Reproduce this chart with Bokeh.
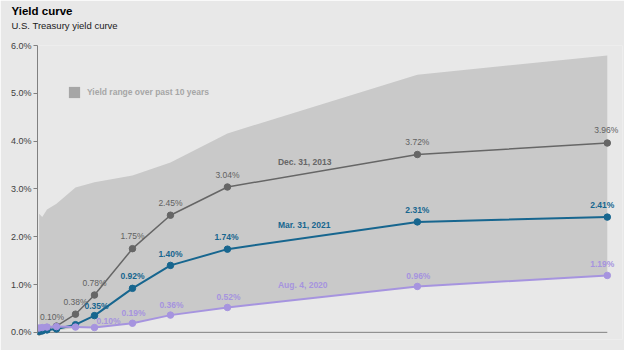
from bokeh.plotting import figure
from bokeh.models import (ColumnDataSource, LabelSet, Label, Legend, LegendItem, Title,
                          PrintfTickFormatter, FixedTicker, Range1d)
from bokeh.core.properties import value
from bokeh.embed import file_html
from bokeh.resources import INLINE

# ---------------- data ----------------
maturity_labels = ["1m", "3m", "6m", "1y", "2y", "3y", "5y", "7y", "10y", "20y", "30y"]
maturity_years = [0.083, 0.25, 0.5, 1, 2, 3, 5, 7, 10, 20, 30]

dec_2013 = [0.01, 0.07, 0.10, 0.13, 0.38, 0.78, 1.75, 2.45, 3.04, 3.72, 3.96]
mar_2021 = [0.02, 0.03, 0.05, 0.07, 0.16, 0.35, 0.92, 1.40, 1.74, 2.31, 2.41]
aug_2020 = [0.09, 0.10, 0.11, 0.12, 0.11, 0.10, 0.19, 0.36, 0.52, 0.96, 1.19]

range_high = [2.48, 2.41, 2.57, 2.69, 3.03, 3.14, 3.28, 3.55, 4.16, 5.39, 5.79]
range_low = [0.00, 0.00, 0.02, 0.04, 0.09, 0.10, 0.19, 0.36, 0.52, 0.96, 1.19]

y_ticks = [0, 1, 2, 3, 4, 5, 6]

series_names = ["Dec. 31, 2013", "Mar. 31, 2021", "Aug. 4, 2020"]
legend_text = "Yield range over past 10 years"
title_text = "Yield curve"
subtitle_text = "U.S. Treasury yield curve"

# which points carry a value label
dec_labelled = [2, 4, 5, 6, 7, 8, 9, 10]
mar_labelled = [5, 6, 7, 8, 9, 10]
aug_labelled = [5, 6, 7, 8, 9, 10]

# ---------------- style ----------------
FONT = "Liberation Sans"
BG = "#e8e8e8"
AREA = "#c9c9c9"
SWATCH = "#a6a6a6"
GRAY = "#666666"
GRAY_TXT = "#616161"
BLUE = "#17668f"
PURPLE = "#a694df"
AXIS = "#808080"

p = figure(width=624, height=350, output_backend="svg", toolbar_location=None, title=None,
           x_range=Range1d(0, 30.8), y_range=Range1d(-0.15, 6.0),
           min_border_left=37, min_border_right=2, min_border_top=45, min_border_bottom=11,
           background_fill_color=BG, border_fill_color=BG, outline_line_color=None)
p.xgrid.visible = False
p.ygrid.visible = False
p.xaxis.visible = False

ya = p.yaxis[0]
ya.bounds = (0, 6)
ya.ticker = FixedTicker(ticks=y_ticks)
ya.formatter = PrintfTickFormatter(format="%.1f%%")
ya.axis_line_color = AXIS
ya.major_tick_line_color = AXIS
ya.major_tick_out = 4
ya.major_tick_in = 0
ya.minor_tick_line_color = None
ya.major_label_standoff = 2
ya.major_label_text_font = FONT
ya.major_label_text_font_size = "9px"
ya.major_label_text_color = "#404040"

# titles (first added sits closest to the plot)
p.add_layout(Title(text=subtitle_text, text_font=FONT, text_font_size="9.5px",
                   text_font_style="normal", text_color="#1a1a1a",
                   align="left", offset=-26, standoff=29), "above")
p.add_layout(Title(text=title_text, text_font=FONT, text_font_size="11.5px",
                   text_font_style="bold", text_color="#000000",
                   align="left", offset=-26, standoff=-27), "above")

# range area
p.varea(x=maturity_years, y1=range_low, y2=range_high, fill_color=AREA)

# bottom axis line from 0 to longest maturity
p.segment(x0=[0], y0=[0], x1=[max(maturity_years)], y1=[0], line_color=AXIS, line_width=1)

# curves
for vals, col, lw in [(dec_2013, GRAY, 1.5), (mar_2021, BLUE, 2), (aug_2020, PURPLE, 2)]:
    p.line(maturity_years, vals, line_color=col, line_width=lw)
    p.scatter(maturity_years, vals, size=6.5, fill_color=col, line_color=col)

def value_labels(vals, idx, col, bold, dx, dy):
    xs = [maturity_years[i] for i in idx]
    ys = [vals[i] for i in idx]
    txt = ["%.2f%%" % vals[i] for i in idx]
    src = ColumnDataSource(dict(x=xs, y=ys, text=txt, dx=dx, dy=dy))
    ls = LabelSet(x="x", y="y", text="text", source=src, x_offset="dx", y_offset="dy",
                  text_align="center", text_baseline="middle", text_font=value(FONT),
                  text_font_size=value("8.5px"), text_color=value(col),
                  text_font_style=value("bold" if bold else "normal"))
    p.add_layout(ls)

value_labels(dec_2013, dec_labelled, GRAY_TXT, False,
             [5, 0, 0, 0, 0, 0, 0, -1], [11, 12.5, 12.5, 12.5, 12.5, 12.5, 12, 13])
value_labels(mar_2021, mar_labelled, BLUE, True,
             [2, 0, 0, -1, 0, -5], [10, 12.5, 11, 12, 12, 12])
value_labels(aug_2020, aug_labelled, PURPLE, True,
             [14, 1, 1, 1, 1, -5], [7, 10, 10, 10, 10, 11])

# series name labels (annotation anchors, data units)
name_x = 12.66
for name, ny, col in zip(series_names, [3.57, 2.25, 1.00], [GRAY, BLUE, PURPLE]):
    p.add_layout(Label(x=name_x, y=ny, text=name, text_align="left", text_baseline="middle",
                       text_font=FONT, text_font_size="8.5px", text_font_style="bold",
                       text_color=col))

# legend swatch (zero-area renderer used only for its legend glyph)
dummy = p.varea(x=[0], y1=[0], y2=[0], fill_color=SWATCH)
leg = Legend(items=[LegendItem(label=legend_text, renderers=[dummy])],
             location=(30, 240), padding=0, margin=0, spacing=0,
             glyph_width=14, glyph_height=14, label_standoff=6,
             label_text_font=FONT, label_text_font_size="8.5px",
             label_text_font_style="bold", label_text_color=SWATCH,
             background_fill_alpha=0, border_line_alpha=0)
p.add_layout(leg)

open("out.html", "w").write(file_html(p, INLINE))
